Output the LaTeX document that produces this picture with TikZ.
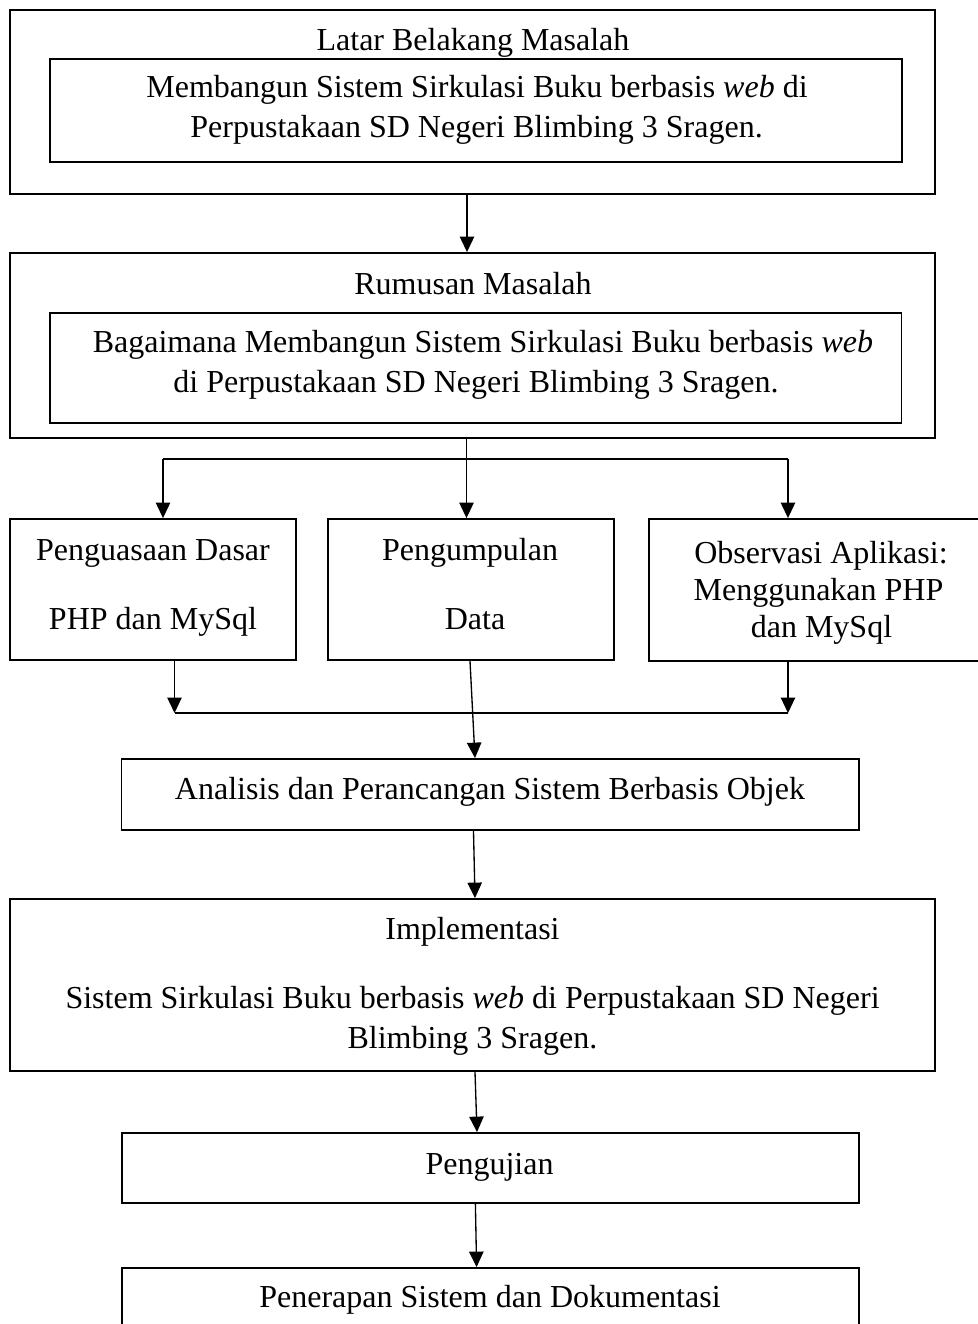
\documentclass[tikz,border=0pt]{standalone}
\usepackage{fontspec}
\setmainfont{Liberation Serif}
\usetikzlibrary{arrows.meta,fit}
\begin{document}
\begin{tikzpicture}[x=0.375pt,y=-0.375pt,
  box/.style={draw,line width=0.7pt,inner sep=0pt},
  txt/.style={anchor=base,inner sep=0pt,font=\fontsize{12pt}{14.6pt}\selectfont},
  arr/.style={line width=0.5pt,-{Triangle[length=5.8pt,width=5.4pt]}},
  ln/.style={line width=0.5pt}]
\useasboundingbox (0,0) rectangle (977,1324);
% boxes
\node[box,fit={(10,10)(935,194)}] (b1) {};
\node[box,fit={(50,59)(902,162)}] (b1i) {};
\node[box,fit={(10,253)(935,438)}] (b2) {};
\node[box,fit={(50,313)(901.5,423)}] (b2i) {};
\node[box,fit={(10,519)(296,660)}] (A) {};
\node[box,fit={(328,519)(614,660)}] (B) {};
\node[box,fit={(649,519)(993,661)}] (C) {};
\node[box,fit={(121.5,759)(858.6,830)}] (D) {};
\node[box,fit={(10,899)(935,1071)}] (E) {};
\node[box,fit={(122,1133)(859,1203)}] (F) {};
\node[box,fit={(122,1268)(859,1345)}] (G) {};
% texts
\node[txt] (t1) at (473,50) {Latar Belakang Masalah};
\node[txt] (t1a) at (477,97) {Membangun Sistem Sirkulasi Buku berbasis \textit{web} di};
\node[txt] (t1b) at (476.6,137) {Perpustakaan SD Negeri Blimbing 3 Sragen.};
\node[txt] (t2) at (473,294) {Rumusan Masalah};
\node[txt] (t2a) at (483,352) {Bagaimana Membangun Sistem Sirkulasi Buku berbasis \textit{web}};
\node[txt] (t2b) at (476,392) {di Perpustakaan SD Negeri Blimbing 3 Sragen.};
\node[txt] (tAa) at (153,560) {Penguasaan Dasar};
\node[txt] (tAb) at (153,629) {PHP dan MySql};
\node[txt] (tBa) at (470,560) {Pengumpulan};
\node[txt] (tBb) at (475,629) {Data};
\node[txt] (tCa) at (821,563) {Observasi Aplikasi:};
\node[txt] (tCb) at (818.5,600) {Menggunakan PHP};
\node[txt] (tCc) at (821.5,637) {dan MySql};
\node[txt] (tD) at (490,799) {Analisis dan Perancangan Sistem Berbasis Objek};
\node[txt] (tEa) at (472.5,939) {Implementasi};
\node[txt] (tEb) at (472.6,1008) {Sistem Sirkulasi Buku berbasis \textit{web} di Perpustakaan SD Negeri};
\node[txt] (tEc) at (472.4,1048) {Blimbing 3 Sragen.};
\node[txt] (tF) at (489.5,1174) {Pengujian};
\node[txt] (tG) at (490,1307) {Penerapan Sistem dan Dokumentasi};
% junction coordinates
\coordinate (x1) at (467,0);
\coordinate (sp) at (466.5,459);
\coordinate (spL) at (163,459);
\coordinate (spR) at (788,459);
\coordinate (mL) at (174.5,713);
\coordinate (mR) at (788,713);
\coordinate (xm1) at (470,0);
\coordinate (xm2) at (475,0);
\coordinate (xd1) at (473.5,0);
\coordinate (xd2) at (475,0);
\coordinate (xe1) at (475,0);
\coordinate (xe2) at (477,0);
\coordinate (xf1) at (475.4,0);
\coordinate (xf2) at (476.6,0);
% connectors
\draw[arr] (b1.south -| x1) -- (b2.north -| x1);
\draw[ln] (b2.south -| sp) -- (sp);
\draw[arr] (sp) -- (B.north -| sp);
\draw[ln] (spL) -- (spR);
\draw[arr] (spL) -- (A.north -| spL);
\draw[arr] (spR) -- (C.north -| spR);
\draw[arr] (A.south -| mL) -- (mL);
\draw[arr] (C.south -| mR) -- (mR);
\draw[ln] (mL) -- (mR);
\draw[arr] (B.south -| xm1) -- (D.north -| xm2);
\draw[arr] (D.south -| xd1) -- (E.north -| xd2);
\draw[arr] (E.south -| xe1) -- (F.north -| xe2);
\draw[arr] (F.south -| xf1) -- (G.north -| xf2);
\end{tikzpicture}
\end{document}
